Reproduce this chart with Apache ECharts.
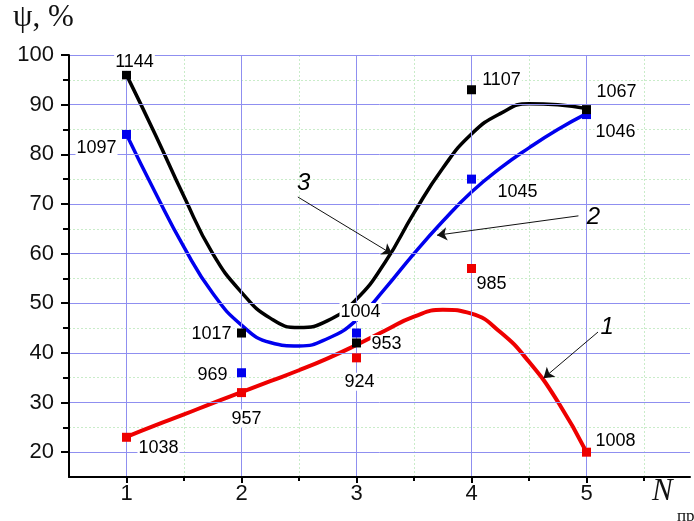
<!DOCTYPE html>
<html>
<head>
<meta charset="utf-8">
<script src="https://cdn.jsdelivr.net/npm/echarts@6/dist/echarts.min.js"></script>
<style>
  html, body { margin: 0; padding: 0; background: #fff; }
  #chart { width: 694px; height: 521px; }
</style>
</head>
<body>
<div id="chart"></div>
<script>
// Number of passes N_пр
const passes = [1, 2, 3, 4, 5];

// Measured ψ, % at each pass count, with the temperature written beside each point
const psi3 = [96, 44, 42, 93, 89];
const temp3 = [1144, 1017, 953, 1107, 1067];
const psi2 = [84, 36, 44, 75, 88];
const temp2 = [1097, 969, 1004, 1045, 1046];
const psi1 = [23, 32, 39, 57, 20];
const temp1 = [1038, 957, 924, 985, 1008];

// Fitted curves 1, 2, 3
const fitX = [1, 1.25, 1.5, 1.75, 2, 2.25, 2.5, 2.75, 3, 3.25, 3.5, 3.75, 4, 4.25, 4.5, 4.75, 5];
const fit3 = [96, 84, 71.5, 60, 52.2, 47.0, 45.1, 46.5, 50.8, 58.3, 68.2, 77.2, 84.1, 88.2, 90.2, 90.0, 89.2];
const fit2 = [84, 72.3, 61.3, 52.0, 45.6, 42.1, 41.4, 42.9, 46.6, 53.0, 60.0, 66.5, 72.4, 77.2, 81.3, 85.0, 88.2];
const fit1 = [23.1, 25.4, 27.6, 29.9, 32.1, 34.3, 36.5, 38.9, 41.6, 44.5, 47.3, 48.7, 47.9, 44.2, 38.2, 30.2, 20.0];

// Tick values
const xMajor = [1, 2, 3, 4, 5];
const xMinor = [1.5, 2.5, 3.5, 4.5, 5.5];
const yMajor = [20, 30, 40, 50, 60, 70, 80, 90, 100];
const yMinor = [25, 35, 45, 55, 65, 75, 85, 95];

// Curve numbers and the arrows pointing at each curve (data coordinates)
const curveNames = ['1', '2', '3'];
const calloutText = [[5.18, 45.2], [5.06, 67.4], [2.54, 74.2]];
const calloutFrom = [[5.10, 44.2], [4.93, 67.6], [2.49, 71.4]];
const calloutTo = [[4.626, 34.9], [3.70, 63.7], [3.31, 59.9]];

// Label offsets (px) for the temperature tags, per curve and point
const tagOffset3 = [[8, -13], [-30, 1], [30, 1], [30, -10], [30, -18]];
const tagOffset2 = [[-30, 14], [-29, 2], [4, -21], [46, 13], [29, 17]];
const tagOffset1 = [[32, 11], [5, 26], [3, 24], [20, 16], [29, -11]];

const MAJOR_GRID = '#8f8ff0';
const MINOR_GRID = '#c9ecc9';
const SANS = '"Liberation Sans", Arial, sans-serif';
const SERIF = '"Liberation Serif", "Times New Roman", serif';

function pointSeries(name, color, ys, temps, offsets) {
  return {
    name: name,
    type: 'scatter',
    z: 5,
    symbol: 'rect',
    symbolSize: 9,
    itemStyle: { color: color, opacity: 1 },
    emphasis: { disabled: true },
    data: passes.map((x, i) => ({
      value: [x, ys[i]],
      label: {
        show: true,
        position: 'inside',
        offset: offsets[i],
        formatter: String(temps[i])
      }
    })),
    label: {
      color: '#000',
      fontSize: 18,
      fontFamily: SANS,
      backgroundColor: '#fff',
      padding: [0, 1],
      align: 'center',
      verticalAlign: 'middle'
    }
  };
}

function curveSeries(name, color, ys, width) {
  return {
    name: name,
    type: 'line',
    z: 3,
    smooth: 0.5,
    symbol: 'none',
    lineStyle: { color: color, width: width },
    emphasis: { disabled: true },
    data: fitX.map((x, i) => [x, ys[i]])
  };
}

const chart = echarts.init(document.getElementById('chart'), null, { renderer: 'canvas' });

chart.setOption({
  backgroundColor: '#fff',
  animation: false,
  grid: { left: 69, right: 4, top: 55, bottom: 44, containLabel: false },
  xAxis: [
    {
      type: 'value', min: 0.5, max: 5.9, position: 'bottom', z: 4,
      axisLine: { show: true, lineStyle: { color: '#000', width: 2 } },
      axisTick: { show: true, customValues: xMajor, length: 6, lineStyle: { color: '#000', width: 2 } },
      axisLabel: { customValues: xMajor, fontSize: 22, color: '#111', fontFamily: SANS, margin: 6 },
      splitLine: { show: true, lineStyle: { color: MAJOR_GRID, width: 1 } }
    },
    {
      type: 'value', min: 0.5, max: 5.9, position: 'bottom', offset: 0, z: 1,
      axisLine: { show: false },
      axisTick: { show: true, customValues: xMinor, length: 4, lineStyle: { color: '#000', width: 2 } },
      axisLabel: { show: false },
      splitLine: { show: true, lineStyle: { color: MINOR_GRID, width: 1, type: [2, 2] } }
    }
  ],
  yAxis: [
    {
      type: 'value', min: 15, max: 100, position: 'left', z: 4,
      axisLine: { show: true, lineStyle: { color: '#000', width: 2 } },
      axisTick: { show: true, customValues: yMajor, length: 8, lineStyle: { color: '#000', width: 2 } },
      axisLabel: { customValues: yMajor, fontSize: 22, color: '#111', fontFamily: SANS, margin: 15 },
      splitLine: { show: true, lineStyle: { color: MAJOR_GRID, width: 1 } }
    },
    {
      type: 'value', min: 15, max: 100, position: 'left', offset: 0, z: 1,
      axisLine: { show: false },
      axisTick: { show: true, customValues: yMinor, length: 6, lineStyle: { color: '#000', width: 2 } },
      axisLabel: { show: false },
      splitLine: { show: true, lineStyle: { color: MINOR_GRID, width: 1, type: [2, 2] } }
    }
  ],
  series: [
    curveSeries('curve 1', '#ee0000', fit1, 4),
    curveSeries('curve 2', '#0000ee', fit2, 3.5),
    curveSeries('curve 3', '#000000', fit3, 3.5),
    pointSeries('points 1', '#ee0000', psi1, temp1, tagOffset1),
    pointSeries('points 2', '#0000ee', psi2, temp2, tagOffset2),
    pointSeries('points 3', '#000000', psi3, temp3, tagOffset3),
    {
      name: 'callouts',
      type: 'line',
      data: [],
      z: 6,
      markLine: {
        silent: true,
        animation: false,
        symbol: ['none', 'arrow'],
        symbolSize: 10,
        label: { show: false },
        lineStyle: { color: '#111', width: 1, type: 'solid', opacity: 1 },
        emphasis: { disabled: true },
        data: calloutFrom.map((p, i) => [{ coord: p }, { coord: calloutTo[i] }])
      }
    },
    {
      name: 'curve numbers',
      type: 'scatter',
      z: 6,
      symbolSize: 0,
      silent: true,
      itemStyle: { opacity: 1 },
      data: calloutText.map((p, i) => ({ value: p, name: curveNames[i] })),
      label: {
        show: true,
        position: 'inside',
        formatter: '{b}',
        fontSize: 24,
        fontStyle: 'italic',
        fontFamily: SANS,
        color: '#000'
      }
    }
  ],
  graphic: [
    {
      type: 'text', left: 13, top: 2, z: 10,
      style: { text: 'ψ, %', font: '31px ' + SERIF, fill: '#111' }
    },
    {
      type: 'text', left: 652, top: 476, z: 10,
      style: { text: 'N', font: 'italic 31px ' + SERIF, fill: '#111' }
    },
    {
      type: 'text', left: 677, top: 508, z: 10,
      style: { text: 'пр', font: '17px ' + SERIF, fill: '#111' }
    }
  ]
});
</script>
</body>
</html>
